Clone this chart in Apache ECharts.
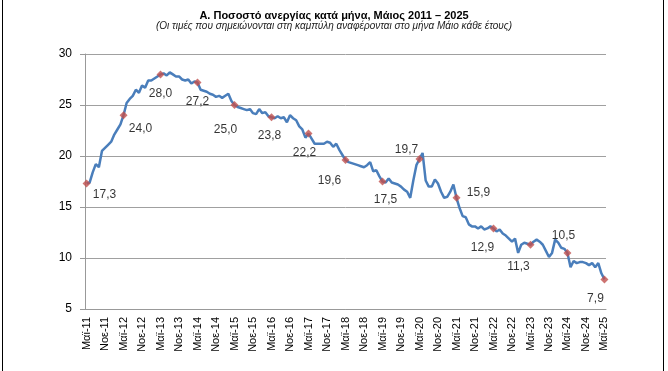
<!DOCTYPE html>
<html>
<head>
<meta charset="utf-8">
<script src="https://cdn.jsdelivr.net/npm/echarts@6/dist/echarts.min.js"></script>
<style>
html,body{margin:0;padding:0;background:#fff;}
#wrap{position:relative;width:668px;height:371px;}
#chart{position:absolute;left:0;top:0;width:668px;height:371px;}
#frame{position:absolute;left:2px;top:0;width:660px;height:371px;border-left:1.5px solid #000;border-right:1.5px solid #000;pointer-events:none;}
</style>
</head>
<body>
<div id="wrap"><div id="chart"></div><div id="frame"></div></div>
<script>
// Tick label parts
const monthNames = ['Ιαν','Φεβ','Μαρ','Απρ','Μαϊ','Ιουν','Ιουλ','Αυγ','Σεπ','Οκτ','Νοε','Δεκ'];
const startYear = 2011, startMonth = 4; // May 2011
// Monthly unemployment rate (%) by year
const v2011 = [17.3,17.4,18.4,19.2,18.9,20.5,20.8,21.1];
const v2012 = [21.4,22.1,22.6,23.1,24.0,25.2,25.6,25.9,26.5,26.2,26.9,26.7];
const v2013 = [27.4,27.4,27.6,27.8,28.0,28.1,27.9,28.2,28.0,27.8,27.8,27.5];
const v2014 = [27.4,27.5,27.1,27.3,27.2,26.5,26.4,26.3,26.1,26.0,25.8,25.9];
const v2015 = [25.7,25.9,26.1,25.4,25.0,24.8,24.7,24.6,24.5,24.6,24.2,24.1];
const v2016 = [24.6,24.2,24.3,23.9,23.8,23.7,23.9,23.7,23.8,23.3,24.0,23.7];
const v2017 = [23.5,22.9,22.6,21.8,22.2,21.7,21.2,21.2,21.2,21.2,21.4,21.3];
const v2018 = [20.9,21.2,20.6,20.1,19.6,19.4,19.3,19.2,19.1,19.0,18.9,19.1];
const v2019 = [19.4,18.5,18.6,18.0,17.5,17.4,17.8,17.4,17.3,17.2,17.0,16.7];
const v2020 = [16.5,15.9,17.6,19.1,19.7,20.3,17.6,17.0,17.0,17.7,17.3,16.5];
const v2021 = [15.9,16.0,16.5,17.2,15.9,14.9,14.1,14.0,13.3,13.1,13.1,12.9];
const v2022 = [13.1,12.8,12.9,13.1,12.9,12.6,12.8,12.4,12.2,11.9,11.6,11.9];
const v2023 = [10.5,11.3,11.5,11.4,11.3,11.6,11.8,11.6,11.3,10.7,10.1,10.5];
const v2024 = [11.8,11.5,11.0,10.9,10.5,9.1,9.7,9.5,9.6,9.6,9.5,9.3];
const v2025 = [9.5,9.1,9.5,8.5,7.9];

const values = [].concat(v2011,v2012,v2013,v2014,v2015,v2016,v2017,v2018,v2019,v2020,v2021,v2022,v2023,v2024,v2025);
const categories = values.map(function(_, i){
  const m = (startMonth + i) % 12;
  const y = startYear + Math.floor((startMonth + i) / 12);
  return monthNames[m] + '-' + String(y).slice(2);
});
// May points (marked)
const mayPoints = [];
for (let i = 0; i < values.length; i += 12) mayPoints.push([i, values[i]]);
// label offsets (style) for each May marker
const labelOffsets = [[18,11],[17,13],[0,19],[0,19],[-9,25],[-2,18],[-4,19],[-16,21],[3,18],[-13,-9],[22,-5],[-11,19],[-12,22],[-4,-17],[-9,19]];

const FONT = 'Liberation Sans';
const chart = echarts.init(document.getElementById('chart'), null, {renderer:'canvas'});
chart.setOption({
  backgroundColor:'#fff',
  animation:false,
  title:{
    text:'Α. Ποσοστό ανεργίας κατά μήνα, Μάιος 2011 – 2025',
    subtext:'(Οι τιμές που σημειώνονται στη καμπύλη αναφέρονται στο μήνα Μάιο κάθε έτους)',
    left:'center', top:5, itemGap:0,
    textStyle:{fontFamily:FONT,fontSize:11,fontWeight:'bold',color:'#000'},
    subtextStyle:{fontFamily:FONT,fontSize:10,fontStyle:'italic',color:'#222'}
  },
  grid:{left:85,right:62,top:54,bottom:62,containLabel:false},
  xAxis:{
    type:'category', data:categories, boundaryGap:true,
    axisLine:{lineStyle:{color:'#999',width:1}},
    axisTick:{interval:5,length:4,lineStyle:{color:'#999'}},
    axisLabel:{interval:5,rotate:90,margin:8,fontFamily:FONT,fontSize:11,color:'#000'},
    splitLine:{show:false}
  },
  yAxis:{
    type:'value', min:5, max:30, interval:5,
    axisLine:{show:true,lineStyle:{color:'#999',width:1}},
    axisTick:{show:true,length:5,lineStyle:{color:'#999'}},
    axisLabel:{margin:13,fontFamily:FONT,fontSize:12,color:'#000'},
    splitLine:{lineStyle:{color:'#a0a0a0',width:1}}
  },
  series:[
    {type:'line', data:values, showSymbol:false, symbol:'none',
     lineStyle:{color:'#4a7ebb',width:2.5}, z:2},
    {type:'scatter', data:mayPoints, symbol:'diamond', symbolSize:8,
     itemStyle:{color:'#c0504d'}, z:3,
     label:{show:true, position:'inside', fontFamily:FONT, fontSize:12, color:'#000',
       formatter:function(p){return p.value[1].toFixed(1).replace('.', ',');}},
     labelLayout:function(p){
       const o = labelOffsets[p.dataIndex];
       const r = p.rect;
       return {x: r.x + r.width/2 + o[0], y: r.y + r.height/2 + o[1], align:'center', verticalAlign:'middle'};
     }
    }
  ]
});
</script>
</body>
</html>
